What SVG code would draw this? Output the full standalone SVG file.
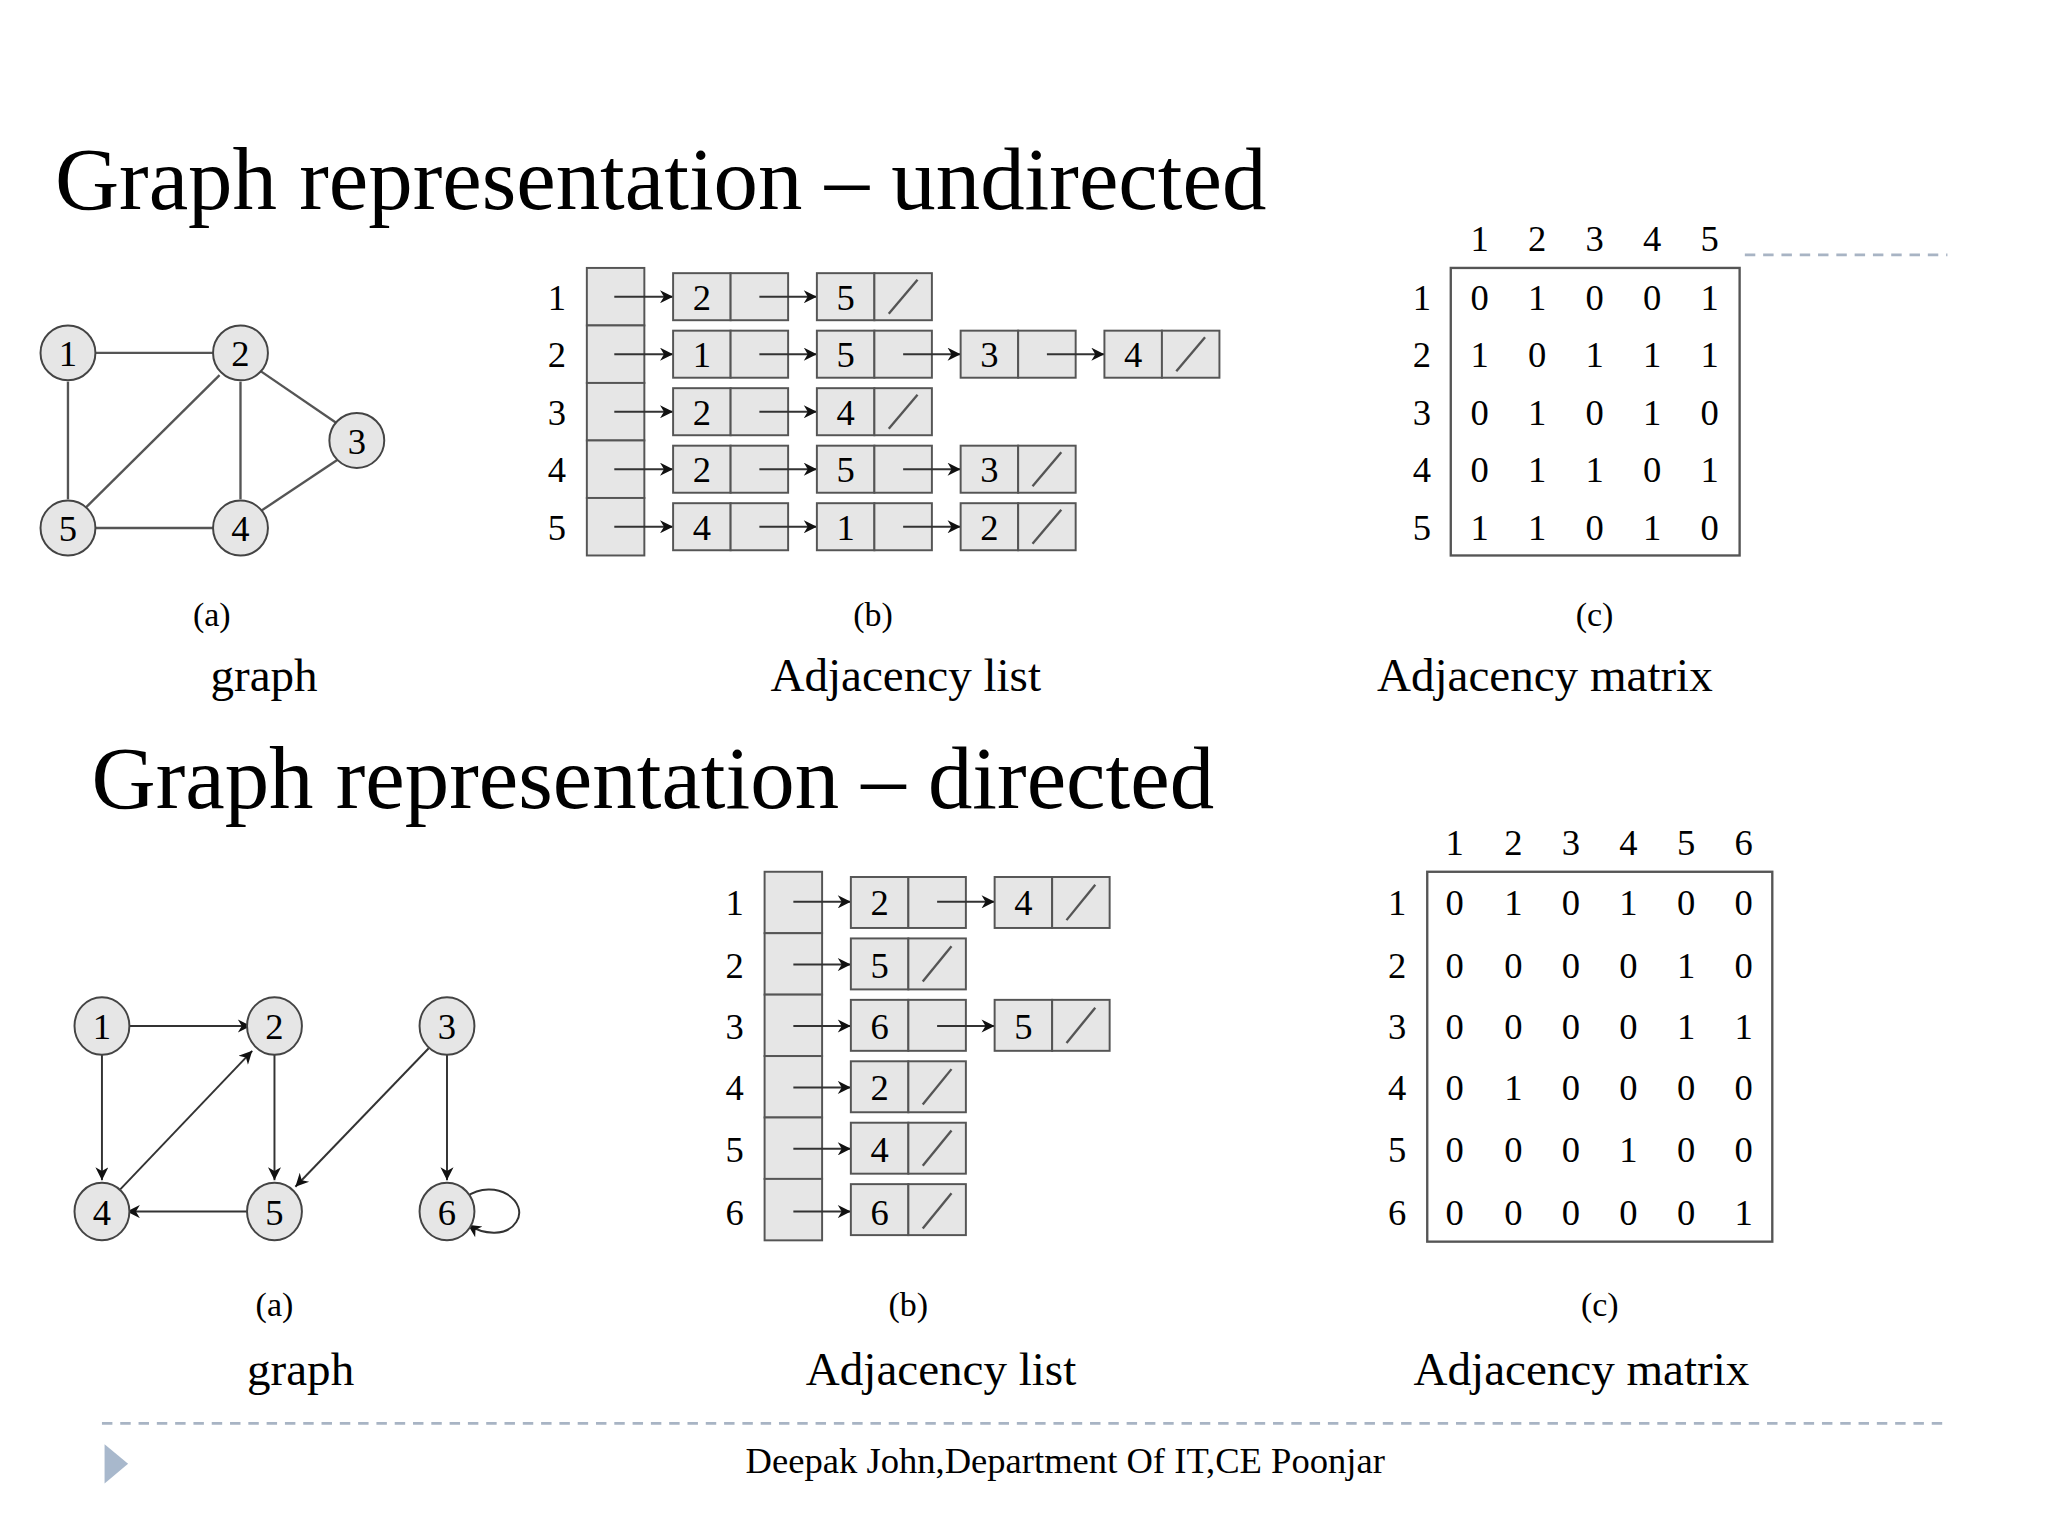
<svg xmlns="http://www.w3.org/2000/svg" width="2048" height="1536" viewBox="0 0 2048 1536">
<defs>
<style>
text{font-family:"Liberation Serif","Times New Roman",serif;fill:#000}
.t{font-size:68px}
.cap{font-size:36px;text-anchor:middle}
.sm{font-size:26px;text-anchor:middle}
.n{font-size:28px;text-anchor:middle}
.node ellipse{fill:#e6e6e6;stroke:#444;stroke-width:1.5}
.cell{fill:#e6e6e6;stroke:#555;stroke-width:1.5}
.e{stroke:#555;stroke-width:1.8;fill:none}
.a{stroke:#333;stroke-width:1.5;fill:none;marker-end:url(#ar)}
.d{stroke:#a8b4c4;stroke-width:2;stroke-dasharray:8 6}
</style>
<marker id="ar" viewBox="0 0 10 10" refX="10" refY="5" markerWidth="14" markerHeight="10" markerUnits="userSpaceOnUse" orient="auto"><path d="M0,0L10,5L0,10L3,5z" fill="#111"/></marker>
</defs>
<rect width="2048" height="1536" fill="#fff"/>
<g transform="scale(1.307)">
<text class="t" x="42" y="160">Graph representation – undirected</text>
<text class="t" x="70" y="618">Graph representation – directed</text>
<line class="d" x1="1335" y1="195" x2="1490" y2="195"/>
<line class="d" x1="78" y1="1089" x2="1490" y2="1089"/>
<path d="M80,1105L98,1120L80,1135z" fill="#a8b8cc"/>
<text x="815" y="1127" style="font-size:28px;text-anchor:middle">Deepak John,Department Of IT,CE Poonjar</text>

<g id="connectors">
<line class="e" x1="68" y1="270" x2="168" y2="270"/>
<line class="e" x1="52" y1="292" x2="52" y2="382"/>
<line class="e" x1="68" y1="404" x2="168" y2="404"/>
<line class="e" x1="184" y1="292" x2="184" y2="382"/>
<line class="e" x1="168" y1="287" x2="66" y2="388"/>
<line class="e" x1="198" y1="283" x2="258" y2="324"/>
<line class="e" x1="258" y1="352" x2="198" y2="392"/>
<line class="a" x1="94" y1="785" x2="192" y2="785"/>
<line class="a" x1="78" y1="807" x2="78" y2="903"/>
<line class="a" x1="92" y1="910" x2="193" y2="804"/>
<line class="a" x1="210" y1="807" x2="210" y2="903"/>
<line class="a" x1="194" y1="927" x2="97" y2="927"/>
<line class="a" x1="328" y1="802" x2="226" y2="908"/>
<line class="a" x1="342" y1="807" x2="342" y2="903"/>
<path class="a" d="M356,916 C380,900 405,920 395,935 C388,946 370,945 358,937"/>
</g>

<g id="ugraph">
<g class="node"><ellipse cx="52" cy="270" rx="21" ry="21"/><text class="n" x="52" y="280">1</text></g>
<g class="node"><ellipse cx="184" cy="270" rx="21" ry="21"/><text class="n" x="184" y="280">2</text></g>
<g class="node"><ellipse cx="273" cy="337" rx="21" ry="21"/><text class="n" x="273" y="347">3</text></g>
<g class="node"><ellipse cx="184" cy="404" rx="21" ry="21"/><text class="n" x="184" y="414">4</text></g>
<g class="node"><ellipse cx="52" cy="404" rx="21" ry="21"/><text class="n" x="52" y="414">5</text></g>
</g>
<g id="dgraph">
<g class="node"><ellipse cx="78" cy="785" rx="21" ry="22"/><text class="n" x="78" y="795">1</text></g>
<g class="node"><ellipse cx="210" cy="785" rx="21" ry="22"/><text class="n" x="210" y="795">2</text></g>
<g class="node"><ellipse cx="342" cy="785" rx="21" ry="22"/><text class="n" x="342" y="795">3</text></g>
<g class="node"><ellipse cx="78" cy="927" rx="21" ry="22"/><text class="n" x="78" y="937">4</text></g>
<g class="node"><ellipse cx="210" cy="927" rx="21" ry="22"/><text class="n" x="210" y="937">5</text></g>
<g class="node"><ellipse cx="342" cy="927" rx="21" ry="22"/><text class="n" x="342" y="937">6</text></g>
</g>

<g id="ulist">
<text class="n" x="426" y="237">1</text><text class="n" x="426" y="281">2</text><text class="n" x="426" y="325">3</text><text class="n" x="426" y="369">4</text><text class="n" x="426" y="413">5</text>
<rect class="cell" x="449" y="205" width="44" height="44"/><rect class="cell" x="449" y="249" width="44" height="44"/><rect class="cell" x="449" y="293" width="44" height="44"/><rect class="cell" x="449" y="337" width="44" height="44"/><rect class="cell" x="449" y="381" width="44" height="44"/>
</g>
<g id="dlist">
<text class="n" x="562" y="700">1</text><text class="n" x="562" y="748">2</text><text class="n" x="562" y="795">3</text><text class="n" x="562" y="842">4</text><text class="n" x="562" y="889">5</text><text class="n" x="562" y="937">6</text>
<rect class="cell" x="585" y="667" width="44" height="47"/><rect class="cell" x="585" y="714" width="44" height="47"/><rect class="cell" x="585" y="761" width="44" height="47"/><rect class="cell" x="585" y="808" width="44" height="47"/><rect class="cell" x="585" y="855" width="44" height="47"/><rect class="cell" x="585" y="902" width="44" height="47"/>
</g>
<g id="uitems">
<line class="a" x1="470" y1="227" x2="515" y2="227"/><rect class="cell" x="515" y="209" width="44" height="36"/><rect class="cell" x="559" y="209" width="44" height="36"/><text class="n" x="537" y="237">2</text>
<line class="a" x1="581" y1="227" x2="625" y2="227"/><rect class="cell" x="625" y="209" width="44" height="36"/><rect class="cell" x="669" y="209" width="44" height="36"/><text class="n" x="647" y="237">5</text><line class="e" x1="680" y1="240" x2="702" y2="214"/>
<line class="a" x1="470" y1="271" x2="515" y2="271"/><rect class="cell" x="515" y="253" width="44" height="36"/><rect class="cell" x="559" y="253" width="44" height="36"/><text class="n" x="537" y="281">1</text>
<line class="a" x1="581" y1="271" x2="625" y2="271"/><rect class="cell" x="625" y="253" width="44" height="36"/><rect class="cell" x="669" y="253" width="44" height="36"/><text class="n" x="647" y="281">5</text>
<line class="a" x1="691" y1="271" x2="735" y2="271"/><rect class="cell" x="735" y="253" width="44" height="36"/><rect class="cell" x="779" y="253" width="44" height="36"/><text class="n" x="757" y="281">3</text>
<line class="a" x1="801" y1="271" x2="845" y2="271"/><rect class="cell" x="845" y="253" width="44" height="36"/><rect class="cell" x="889" y="253" width="44" height="36"/><text class="n" x="867" y="281">4</text><line class="e" x1="900" y1="284" x2="922" y2="258"/>
<line class="a" x1="470" y1="315" x2="515" y2="315"/><rect class="cell" x="515" y="297" width="44" height="36"/><rect class="cell" x="559" y="297" width="44" height="36"/><text class="n" x="537" y="325">2</text>
<line class="a" x1="581" y1="315" x2="625" y2="315"/><rect class="cell" x="625" y="297" width="44" height="36"/><rect class="cell" x="669" y="297" width="44" height="36"/><text class="n" x="647" y="325">4</text><line class="e" x1="680" y1="328" x2="702" y2="302"/>
<line class="a" x1="470" y1="359" x2="515" y2="359"/><rect class="cell" x="515" y="341" width="44" height="36"/><rect class="cell" x="559" y="341" width="44" height="36"/><text class="n" x="537" y="369">2</text>
<line class="a" x1="581" y1="359" x2="625" y2="359"/><rect class="cell" x="625" y="341" width="44" height="36"/><rect class="cell" x="669" y="341" width="44" height="36"/><text class="n" x="647" y="369">5</text>
<line class="a" x1="691" y1="359" x2="735" y2="359"/><rect class="cell" x="735" y="341" width="44" height="36"/><rect class="cell" x="779" y="341" width="44" height="36"/><text class="n" x="757" y="369">3</text><line class="e" x1="790" y1="372" x2="812" y2="346"/>
<line class="a" x1="470" y1="403" x2="515" y2="403"/><rect class="cell" x="515" y="385" width="44" height="36"/><rect class="cell" x="559" y="385" width="44" height="36"/><text class="n" x="537" y="413">4</text>
<line class="a" x1="581" y1="403" x2="625" y2="403"/><rect class="cell" x="625" y="385" width="44" height="36"/><rect class="cell" x="669" y="385" width="44" height="36"/><text class="n" x="647" y="413">1</text>
<line class="a" x1="691" y1="403" x2="735" y2="403"/><rect class="cell" x="735" y="385" width="44" height="36"/><rect class="cell" x="779" y="385" width="44" height="36"/><text class="n" x="757" y="413">2</text><line class="e" x1="790" y1="416" x2="812" y2="390"/>
</g>
<g id="ditems">
<line class="a" x1="607" y1="690" x2="651" y2="690"/><rect class="cell" x="651" y="671" width="44" height="39"/><rect class="cell" x="695" y="671" width="44" height="39"/><text class="n" x="673" y="700">2</text>
<line class="a" x1="717" y1="690" x2="761" y2="690"/><rect class="cell" x="761" y="671" width="44" height="39"/><rect class="cell" x="805" y="671" width="44" height="39"/><text class="n" x="783" y="700">4</text><line class="e" x1="816" y1="704" x2="838" y2="677"/>
<line class="a" x1="607" y1="738" x2="651" y2="738"/><rect class="cell" x="651" y="718" width="44" height="39"/><rect class="cell" x="695" y="718" width="44" height="39"/><text class="n" x="673" y="748">5</text><line class="e" x1="706" y1="751" x2="728" y2="724"/>
<line class="a" x1="607" y1="785" x2="651" y2="785"/><rect class="cell" x="651" y="765" width="44" height="39"/><rect class="cell" x="695" y="765" width="44" height="39"/><text class="n" x="673" y="795">6</text>
<line class="a" x1="717" y1="785" x2="761" y2="785"/><rect class="cell" x="761" y="765" width="44" height="39"/><rect class="cell" x="805" y="765" width="44" height="39"/><text class="n" x="783" y="795">5</text><line class="e" x1="816" y1="798" x2="838" y2="771"/>
<line class="a" x1="607" y1="832" x2="651" y2="832"/><rect class="cell" x="651" y="812" width="44" height="39"/><rect class="cell" x="695" y="812" width="44" height="39"/><text class="n" x="673" y="842">2</text><line class="e" x1="706" y1="845" x2="728" y2="818"/>
<line class="a" x1="607" y1="879" x2="651" y2="879"/><rect class="cell" x="651" y="859" width="44" height="39"/><rect class="cell" x="695" y="859" width="44" height="39"/><text class="n" x="673" y="889">4</text><line class="e" x1="706" y1="892" x2="728" y2="865"/>
<line class="a" x1="607" y1="927" x2="651" y2="927"/><rect class="cell" x="651" y="906" width="44" height="39"/><rect class="cell" x="695" y="906" width="44" height="39"/><text class="n" x="673" y="937">6</text><line class="e" x1="706" y1="940" x2="728" y2="913"/>
</g>

<g id="umatrix">
<rect x="1110" y="205" width="221" height="220" fill="none" stroke="#555" stroke-width="1.8"/>
<g font-size="28" text-anchor="middle" style="font-family:'Liberation Serif',serif">
<text x="1132" y="192">1</text><text x="1176" y="192">2</text><text x="1220" y="192">3</text><text x="1264" y="192">4</text><text x="1308" y="192">5</text>
<text x="1088" y="237">1</text><text x="1088" y="281">2</text><text x="1088" y="325">3</text><text x="1088" y="369">4</text><text x="1088" y="413">5</text>
<text x="1132" y="237">0</text><text x="1176" y="237">1</text><text x="1220" y="237">0</text><text x="1264" y="237">0</text><text x="1308" y="237">1</text>
<text x="1132" y="281">1</text><text x="1176" y="281">0</text><text x="1220" y="281">1</text><text x="1264" y="281">1</text><text x="1308" y="281">1</text>
<text x="1132" y="325">0</text><text x="1176" y="325">1</text><text x="1220" y="325">0</text><text x="1264" y="325">1</text><text x="1308" y="325">0</text>
<text x="1132" y="369">0</text><text x="1176" y="369">1</text><text x="1220" y="369">1</text><text x="1264" y="369">0</text><text x="1308" y="369">1</text>
<text x="1132" y="413">1</text><text x="1176" y="413">1</text><text x="1220" y="413">0</text><text x="1264" y="413">1</text><text x="1308" y="413">0</text>
</g>
</g>
<g id="dmatrix">
<rect x="1092" y="667" width="264" height="283" fill="none" stroke="#555" stroke-width="1.8"/>
<g font-size="28" text-anchor="middle" style="font-family:'Liberation Serif',serif">
<text x="1113" y="654">1</text><text x="1158" y="654">2</text><text x="1202" y="654">3</text><text x="1246" y="654">4</text><text x="1290" y="654">5</text><text x="1334" y="654">6</text>
<text x="1069" y="700">1</text><text x="1069" y="748">2</text><text x="1069" y="795">3</text><text x="1069" y="842">4</text><text x="1069" y="889">5</text><text x="1069" y="937">6</text>
<text x="1113" y="700">0</text><text x="1158" y="700">1</text><text x="1202" y="700">0</text><text x="1246" y="700">1</text><text x="1290" y="700">0</text><text x="1334" y="700">0</text>
<text x="1113" y="748">0</text><text x="1158" y="748">0</text><text x="1202" y="748">0</text><text x="1246" y="748">0</text><text x="1290" y="748">1</text><text x="1334" y="748">0</text>
<text x="1113" y="795">0</text><text x="1158" y="795">0</text><text x="1202" y="795">0</text><text x="1246" y="795">0</text><text x="1290" y="795">1</text><text x="1334" y="795">1</text>
<text x="1113" y="842">0</text><text x="1158" y="842">1</text><text x="1202" y="842">0</text><text x="1246" y="842">0</text><text x="1290" y="842">0</text><text x="1334" y="842">0</text>
<text x="1113" y="889">0</text><text x="1158" y="889">0</text><text x="1202" y="889">0</text><text x="1246" y="889">1</text><text x="1290" y="889">0</text><text x="1334" y="889">0</text>
<text x="1113" y="937">0</text><text x="1158" y="937">0</text><text x="1202" y="937">0</text><text x="1246" y="937">0</text><text x="1290" y="937">0</text><text x="1334" y="937">1</text>
</g>
</g>

<g id="captions">
<text class="sm" x="162" y="479">(a)</text><text class="sm" x="668" y="479">(b)</text><text class="sm" x="1220" y="479">(c)</text>
<text class="cap" x="202" y="529">graph</text><text class="cap" x="693" y="529">Adjacency list</text><text class="cap" x="1182" y="529">Adjacency matrix</text>
<text class="sm" x="210" y="1007">(a)</text><text class="sm" x="695" y="1007">(b)</text><text class="sm" x="1224" y="1007">(c)</text>
<text class="cap" x="230" y="1060">graph</text><text class="cap" x="720" y="1060">Adjacency list</text><text class="cap" x="1210" y="1060">Adjacency matrix</text>
</g>
</g>
</svg>
